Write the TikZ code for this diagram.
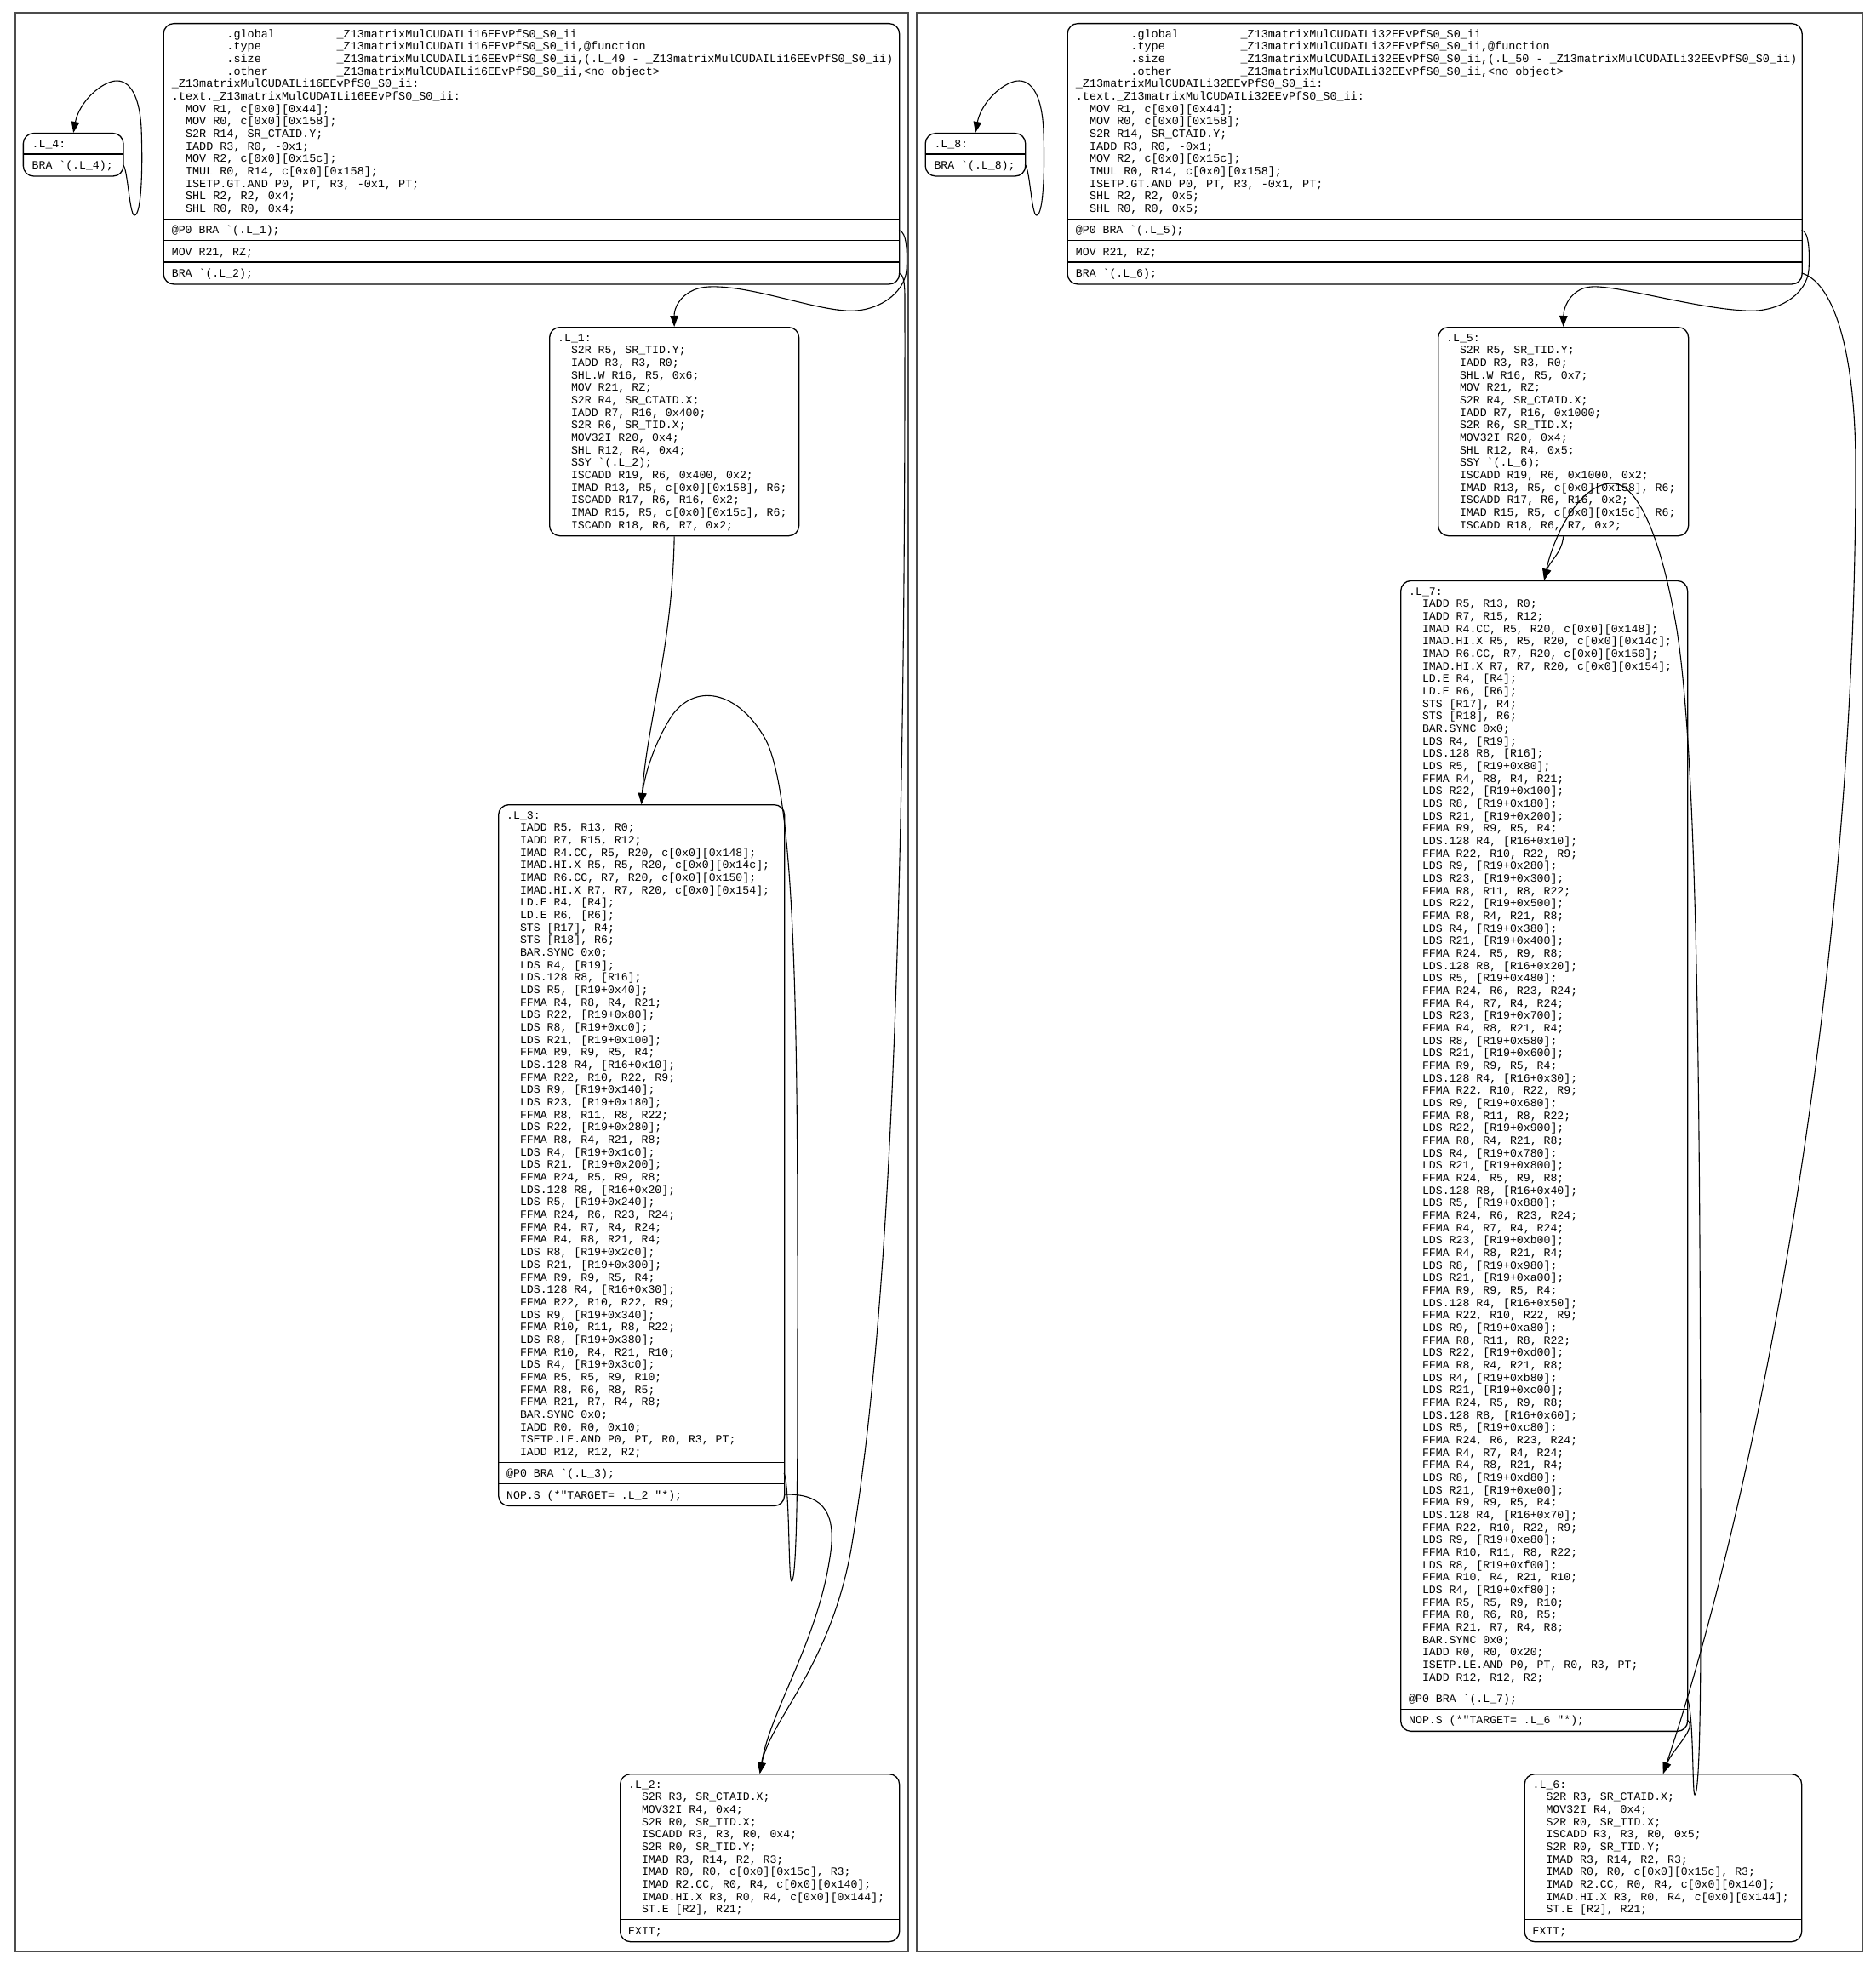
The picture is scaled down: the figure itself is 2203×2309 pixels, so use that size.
\documentclass[tikz,border=0pt]{standalone}
\usepackage{fontspec}
\setmonofont{Liberation Mono}
\usetikzlibrary{arrows.meta}
\newcommand\spc[1]{\hspace*{#1\fontcharwd\font`x}}
\newcommand\myin{\spc{2}}
\newcommand\bqt{\textasciigrave}
\newcommand\dq{\textquotedbl}
\newcommand\codeblk[1]{\parbox[t]{1000pt}{\rule{0pt}{12pt}#1}}
\frenchspacing
\begin{document}
\begin{tikzpicture}[x=1pt,y=-1pt,
  cluster/.style={draw=black!70,line width=2pt},
  recbox/.style={draw,line width=1.3pt,rounded corners=12pt,anchor=north west,inner sep=0pt,rectangle},
  sepline/.style={line width=1.2pt},
  codetxt/.style={anchor=north west,inner sep=0pt,font=\fontsize{13.2pt}{14.67pt}\selectfont\ttfamily},
  toptxt/.style={anchor=north west,inner sep=0pt,font=\fontsize{13.45pt}{14.67pt}\selectfont\ttfamily},
  fldtxt/.style={anchor=base west,inner sep=0pt,font=\fontsize{13.2pt}{14.67pt}\selectfont\ttfamily},
  edge/.style={line width=1.1pt,-{Triangle[length=13pt,width=9.5pt]}}]
\useasboundingbox (0,0) rectangle (2203,2309);
% clusters
\draw[cluster] (17.7,14.7) rectangle (1066.5,2293);
\draw[cluster] (1076.5,14.7) rectangle (2188.3,2293);

% ===== left top block
\node[recbox,minimum width=864.5pt,minimum height=306.3pt] (EL) at (191.5,27) {};
\draw[sepline] (191.5,257.4) -- (1056,257.4);
\draw[sepline] (191.5,282.7) -- (1056,282.7);
\draw[sepline] (191.5,308.0) -- (1056,308.0);
\node[toptxt] (ELt) at (201.7,32) {\codeblk{\spc{8}.global\spc{9}\_Z13matrixMulCUDAILi16EEvPfS0\_S0\_ii\\
\spc{8}.type\spc{11}\_Z13matrixMulCUDAILi16EEvPfS0\_S0\_ii,@function\\
\spc{8}.size\spc{11}\_Z13matrixMulCUDAILi16EEvPfS0\_S0\_ii,(.L\_49 - \_Z13matrixMulCUDAILi16EEvPfS0\_S0\_ii)\\
\spc{8}.other\spc{10}\_Z13matrixMulCUDAILi16EEvPfS0\_S0\_ii,\textless no object\textgreater\\
\_Z13matrixMulCUDAILi16EEvPfS0\_S0\_ii:\\
.text.\_Z13matrixMulCUDAILi16EEvPfS0\_S0\_ii:\\
\myin MOV R1, c[0x0][0x44];\\
\myin MOV R0, c[0x0][0x158];\\
\myin S2R R14, SR\_CTAID.Y;\\
\myin IADD R3, R0, -0x1;\\
\myin MOV R2, c[0x0][0x15c];\\
\myin IMUL R0, R14, c[0x0][0x158];\\
\myin ISETP.GT.AND P0, PT, R3, -0x1, PT;\\
\myin SHL R2, R2, 0x4;\\
\myin SHL R0, R0, 0x4;}};
\node[fldtxt] (ELf1) at (201.7,274.9) {@P0 BRA \bqt(.L\_1);};
\node[fldtxt] (ELf2) at (201.7,300.2) {MOV R21, RZ;};
\node[fldtxt] (ELf3) at (201.7,325.5) {BRA \bqt(.L\_2);};
\coordinate (ELp1) at (1056,270.5);
\coordinate (ELp3) at (1056,321);

% ===== L_4
\node[recbox,minimum width=117.6pt,minimum height=50.3pt] (L4) at (26.7,156) {};
\draw[sepline] (26.7,181) -- (144.3,181);
\node[fldtxt] (L4t) at (37.5,173.5) {.L\_4:};
\node[fldtxt] (L4f) at (37.5,198.5) {BRA \bqt(.L\_4);};
\coordinate (L4p) at (144.3,193.6);

% ===== L_1
\node[recbox,minimum width=293pt,minimum height=245pt] (L1) at (645,384) {};
\node[codetxt] (L1t) at (655,389) {\codeblk{.L\_1:\\
\myin S2R R5, SR\_TID.Y;\\
\myin IADD R3, R3, R0;\\
\myin SHL.W R16, R5, 0x6;\\
\myin MOV R21, RZ;\\
\myin S2R R4, SR\_CTAID.X;\\
\myin IADD R7, R16, 0x400;\\
\myin S2R R6, SR\_TID.X;\\
\myin MOV32I R20, 0x4;\\
\myin SHL R12, R4, 0x4;\\
\myin SSY \bqt(.L\_2);\\
\myin ISCADD R19, R6, 0x400, 0x2;\\
\myin IMAD R13, R5, c[0x0][0x158], R6;\\
\myin ISCADD R17, R6, R16, 0x2;\\
\myin IMAD R15, R5, c[0x0][0x15c], R6;\\
\myin ISCADD R18, R6, R7, 0x2;}};

% ===== L_3
\node[recbox,minimum width=336pt,minimum height=823.8pt] (L3) at (585,945) {};
\draw[sepline] (585,1718.2) -- (921,1718.2);
\draw[sepline] (585,1743.5) -- (921,1743.5);
\node[codetxt] (L3t) at (595,950) {\codeblk{.L\_3:\\
\myin IADD R5, R13, R0;\\
\myin IADD R7, R15, R12;\\
\myin IMAD R4.CC, R5, R20, c[0x0][0x148];\\
\myin IMAD.HI.X R5, R5, R20, c[0x0][0x14c];\\
\myin IMAD R6.CC, R7, R20, c[0x0][0x150];\\
\myin IMAD.HI.X R7, R7, R20, c[0x0][0x154];\\
\myin LD.E R4, [R4];\\
\myin LD.E R6, [R6];\\
\myin STS [R17], R4;\\
\myin STS [R18], R6;\\
\myin BAR.SYNC 0x0;\\
\myin LDS R4, [R19];\\
\myin LDS.128 R8, [R16];\\
\myin LDS R5, [R19+0x40];\\
\myin FFMA R4, R8, R4, R21;\\
\myin LDS R22, [R19+0x80];\\
\myin LDS R8, [R19+0xc0];\\
\myin LDS R21, [R19+0x100];\\
\myin FFMA R9, R9, R5, R4;\\
\myin LDS.128 R4, [R16+0x10];\\
\myin FFMA R22, R10, R22, R9;\\
\myin LDS R9, [R19+0x140];\\
\myin LDS R23, [R19+0x180];\\
\myin FFMA R8, R11, R8, R22;\\
\myin LDS R22, [R19+0x280];\\
\myin FFMA R8, R4, R21, R8;\\
\myin LDS R4, [R19+0x1c0];\\
\myin LDS R21, [R19+0x200];\\
\myin FFMA R24, R5, R9, R8;\\
\myin LDS.128 R8, [R16+0x20];\\
\myin LDS R5, [R19+0x240];\\
\myin FFMA R24, R6, R23, R24;\\
\myin FFMA R4, R7, R4, R24;\\
\myin FFMA R4, R8, R21, R4;\\
\myin LDS R8, [R19+0x2c0];\\
\myin LDS R21, [R19+0x300];\\
\myin FFMA R9, R9, R5, R4;\\
\myin LDS.128 R4, [R16+0x30];\\
\myin FFMA R22, R10, R22, R9;\\
\myin LDS R9, [R19+0x340];\\
\myin FFMA R10, R11, R8, R22;\\
\myin LDS R8, [R19+0x380];\\
\myin FFMA R10, R4, R21, R10;\\
\myin LDS R4, [R19+0x3c0];\\
\myin FFMA R5, R5, R9, R10;\\
\myin FFMA R8, R6, R8, R5;\\
\myin FFMA R21, R7, R4, R8;\\
\myin BAR.SYNC 0x0;\\
\myin IADD R0, R0, 0x10;\\
\myin ISETP.LE.AND P0, PT, R0, R3, PT;\\
\myin IADD R12, R12, R2;}};
\node[fldtxt] (L3f1) at (595,1735.7) {@P0 BRA \bqt(.L\_3);};
\node[fldtxt] (L3f2) at (595,1761) {NOP.S (*\dq TARGET= .L\_2 \dq*);};
\coordinate (L3p1) at (921,1730.8);
\coordinate (L3p2) at (921,1756.1);

% ===== L_2
\node[recbox,minimum width=328pt,minimum height=197pt] (L2) at (728,2084) {};
\draw[sepline] (728,2255.7) -- (1056,2255.7);
\node[codetxt] (L2t) at (738,2089) {\codeblk{.L\_2:\\
\myin S2R R3, SR\_CTAID.X;\\
\myin MOV32I R4, 0x4;\\
\myin S2R R0, SR\_TID.X;\\
\myin ISCADD R3, R3, R0, 0x4;\\
\myin S2R R0, SR\_TID.Y;\\
\myin IMAD R3, R14, R2, R3;\\
\myin IMAD R0, R0, c[0x0][0x15c], R3;\\
\myin IMAD R2.CC, R0, R4, c[0x0][0x140];\\
\myin IMAD.HI.X R3, R0, R4, c[0x0][0x144];\\
\myin ST.E [R2], R21;}};
\node[fldtxt] (L2f) at (738,2273.2) {EXIT;};

% ===== right top block
\node[recbox,minimum width=863pt,minimum height=306.3pt] (ER) at (1253.5,27) {};
\draw[sepline] (1253.5,257.4) -- (2116.5,257.4);
\draw[sepline] (1253.5,282.7) -- (2116.5,282.7);
\draw[sepline] (1253.5,308.0) -- (2116.5,308.0);
\node[toptxt] (ERt) at (1263.7,32) {\codeblk{\spc{8}.global\spc{9}\_Z13matrixMulCUDAILi32EEvPfS0\_S0\_ii\\
\spc{8}.type\spc{11}\_Z13matrixMulCUDAILi32EEvPfS0\_S0\_ii,@function\\
\spc{8}.size\spc{11}\_Z13matrixMulCUDAILi32EEvPfS0\_S0\_ii,(.L\_50 - \_Z13matrixMulCUDAILi32EEvPfS0\_S0\_ii)\\
\spc{8}.other\spc{10}\_Z13matrixMulCUDAILi32EEvPfS0\_S0\_ii,\textless no object\textgreater\\
\_Z13matrixMulCUDAILi32EEvPfS0\_S0\_ii:\\
.text.\_Z13matrixMulCUDAILi32EEvPfS0\_S0\_ii:\\
\myin MOV R1, c[0x0][0x44];\\
\myin MOV R0, c[0x0][0x158];\\
\myin S2R R14, SR\_CTAID.Y;\\
\myin IADD R3, R0, -0x1;\\
\myin MOV R2, c[0x0][0x15c];\\
\myin IMUL R0, R14, c[0x0][0x158];\\
\myin ISETP.GT.AND P0, PT, R3, -0x1, PT;\\
\myin SHL R2, R2, 0x5;\\
\myin SHL R0, R0, 0x5;}};
\node[fldtxt] (ERf1) at (1263.7,274.9) {@P0 BRA \bqt(.L\_5);};
\node[fldtxt] (ERf2) at (1263.7,300.2) {MOV R21, RZ;};
\node[fldtxt] (ERf3) at (1263.7,325.5) {BRA \bqt(.L\_6);};
\coordinate (ERp1) at (2116.5,270.5);
\coordinate (ERp3) at (2116.5,321);

% ===== L_8
\node[recbox,minimum width=117.6pt,minimum height=50.3pt] (L8) at (1086.5,156) {};
\draw[sepline] (1086.5,181) -- (1204.1,181);
\node[fldtxt] (L8t) at (1097.3,173.5) {.L\_8:};
\node[fldtxt] (L8f) at (1097.3,198.5) {BRA \bqt(.L\_8);};
\coordinate (L8p) at (1204.1,193.6);

% ===== L_5
\node[recbox,minimum width=294pt,minimum height=245pt] (L5) at (1689,384) {};
\node[codetxt] (L5t) at (1699,389) {\codeblk{.L\_5:\\
\myin S2R R5, SR\_TID.Y;\\
\myin IADD R3, R3, R0;\\
\myin SHL.W R16, R5, 0x7;\\
\myin MOV R21, RZ;\\
\myin S2R R4, SR\_CTAID.X;\\
\myin IADD R7, R16, 0x1000;\\
\myin S2R R6, SR\_TID.X;\\
\myin MOV32I R20, 0x4;\\
\myin SHL R12, R4, 0x5;\\
\myin SSY \bqt(.L\_6);\\
\myin ISCADD R19, R6, 0x1000, 0x2;\\
\myin IMAD R13, R5, c[0x0][0x158], R6;\\
\myin ISCADD R17, R6, R16, 0x2;\\
\myin IMAD R15, R5, c[0x0][0x15c], R6;\\
\myin ISCADD R18, R6, R7, 0x2;}};

% ===== L_7
\node[recbox,minimum width=337pt,minimum height=1351.9pt] (L7) at (1645,681.8) {};
\draw[sepline] (1645,1983.1) -- (1982,1983.1);
\draw[sepline] (1645,2008.4) -- (1982,2008.4);
\node[codetxt] (L7t) at (1655,686.8) {\codeblk{.L\_7:\\
\myin IADD R5, R13, R0;\\
\myin IADD R7, R15, R12;\\
\myin IMAD R4.CC, R5, R20, c[0x0][0x148];\\
\myin IMAD.HI.X R5, R5, R20, c[0x0][0x14c];\\
\myin IMAD R6.CC, R7, R20, c[0x0][0x150];\\
\myin IMAD.HI.X R7, R7, R20, c[0x0][0x154];\\
\myin LD.E R4, [R4];\\
\myin LD.E R6, [R6];\\
\myin STS [R17], R4;\\
\myin STS [R18], R6;\\
\myin BAR.SYNC 0x0;\\
\myin LDS R4, [R19];\\
\myin LDS.128 R8, [R16];\\
\myin LDS R5, [R19+0x80];\\
\myin FFMA R4, R8, R4, R21;\\
\myin LDS R22, [R19+0x100];\\
\myin LDS R8, [R19+0x180];\\
\myin LDS R21, [R19+0x200];\\
\myin FFMA R9, R9, R5, R4;\\
\myin LDS.128 R4, [R16+0x10];\\
\myin FFMA R22, R10, R22, R9;\\
\myin LDS R9, [R19+0x280];\\
\myin LDS R23, [R19+0x300];\\
\myin FFMA R8, R11, R8, R22;\\
\myin LDS R22, [R19+0x500];\\
\myin FFMA R8, R4, R21, R8;\\
\myin LDS R4, [R19+0x380];\\
\myin LDS R21, [R19+0x400];\\
\myin FFMA R24, R5, R9, R8;\\
\myin LDS.128 R8, [R16+0x20];\\
\myin LDS R5, [R19+0x480];\\
\myin FFMA R24, R6, R23, R24;\\
\myin FFMA R4, R7, R4, R24;\\
\myin LDS R23, [R19+0x700];\\
\myin FFMA R4, R8, R21, R4;\\
\myin LDS R8, [R19+0x580];\\
\myin LDS R21, [R19+0x600];\\
\myin FFMA R9, R9, R5, R4;\\
\myin LDS.128 R4, [R16+0x30];\\
\myin FFMA R22, R10, R22, R9;\\
\myin LDS R9, [R19+0x680];\\
\myin FFMA R8, R11, R8, R22;\\
\myin LDS R22, [R19+0x900];\\
\myin FFMA R8, R4, R21, R8;\\
\myin LDS R4, [R19+0x780];\\
\myin LDS R21, [R19+0x800];\\
\myin FFMA R24, R5, R9, R8;\\
\myin LDS.128 R8, [R16+0x40];\\
\myin LDS R5, [R19+0x880];\\
\myin FFMA R24, R6, R23, R24;\\
\myin FFMA R4, R7, R4, R24;\\
\myin LDS R23, [R19+0xb00];\\
\myin FFMA R4, R8, R21, R4;\\
\myin LDS R8, [R19+0x980];\\
\myin LDS R21, [R19+0xa00];\\
\myin FFMA R9, R9, R5, R4;\\
\myin LDS.128 R4, [R16+0x50];\\
\myin FFMA R22, R10, R22, R9;\\
\myin LDS R9, [R19+0xa80];\\
\myin FFMA R8, R11, R8, R22;\\
\myin LDS R22, [R19+0xd00];\\
\myin FFMA R8, R4, R21, R8;\\
\myin LDS R4, [R19+0xb80];\\
\myin LDS R21, [R19+0xc00];\\
\myin FFMA R24, R5, R9, R8;\\
\myin LDS.128 R8, [R16+0x60];\\
\myin LDS R5, [R19+0xc80];\\
\myin FFMA R24, R6, R23, R24;\\
\myin FFMA R4, R7, R4, R24;\\
\myin FFMA R4, R8, R21, R4;\\
\myin LDS R8, [R19+0xd80];\\
\myin LDS R21, [R19+0xe00];\\
\myin FFMA R9, R9, R5, R4;\\
\myin LDS.128 R4, [R16+0x70];\\
\myin FFMA R22, R10, R22, R9;\\
\myin LDS R9, [R19+0xe80];\\
\myin FFMA R10, R11, R8, R22;\\
\myin LDS R8, [R19+0xf00];\\
\myin FFMA R10, R4, R21, R10;\\
\myin LDS R4, [R19+0xf80];\\
\myin FFMA R5, R5, R9, R10;\\
\myin FFMA R8, R6, R8, R5;\\
\myin FFMA R21, R7, R4, R8;\\
\myin BAR.SYNC 0x0;\\
\myin IADD R0, R0, 0x20;\\
\myin ISETP.LE.AND P0, PT, R0, R3, PT;\\
\myin IADD R12, R12, R2;}};
\node[fldtxt] (L7f1) at (1655,2000.6) {@P0 BRA \bqt(.L\_7);};
\node[fldtxt] (L7f2) at (1655,2025.9) {NOP.S (*\dq TARGET= .L\_6 \dq*);};
\coordinate (L7p1) at (1982,1995.7);
\coordinate (L7p2) at (1982,2021);

% ===== L_6
\node[recbox,minimum width=325.5pt,minimum height=197pt] (L6) at (1790.5,2084) {};
\draw[sepline] (1790.5,2255.7) -- (2116,2255.7);
\node[codetxt] (L6t) at (1800.5,2089) {\codeblk{.L\_6:\\
\myin S2R R3, SR\_CTAID.X;\\
\myin MOV32I R4, 0x4;\\
\myin S2R R0, SR\_TID.X;\\
\myin ISCADD R3, R3, R0, 0x5;\\
\myin S2R R0, SR\_TID.Y;\\
\myin IMAD R3, R14, R2, R3;\\
\myin IMAD R0, R0, c[0x0][0x15c], R3;\\
\myin IMAD R2.CC, R0, R4, c[0x0][0x140];\\
\myin IMAD.HI.X R3, R0, R4, c[0x0][0x144];\\
\myin ST.E [R2], R21;}};
\node[fldtxt] (L6f) at (1800.5,2273.2) {EXIT;};

% ===== edges, left
\draw[edge] (L4p) .. controls (150,196) and (152,253) .. (158,253) .. controls (166,253) and (168,200) .. (166,150) .. controls (163,100) and (145,90) .. (128,97) .. controls (110,104) and (92,125) .. (L4.north);
\draw[edge] (ELp1) .. controls (1066,272) and (1066,300) .. (1065,317) .. controls (1063,345) and (1030,368) .. (993,365) .. controls (950,362) and (880,335) .. (833,337) .. controls (805,338) and (792,358) .. (L1.north);
\draw[edge] (ELp3) .. controls (1061,322) and (1063,330) .. (1063,350) .. controls (1064,1100) and (1045,1550) .. (1000,1820) .. controls (975,1960) and (905,2020) .. (L2.north);
\draw[edge] (L1.south) .. controls (790,760) and (760,850) .. (L3.north);
\draw[edge] (L3p1) .. controls (928,1745) and (926,1858) .. (930,1858) .. controls (934,1858) and (937,1800) .. (937,1650) .. controls (937,1300) and (940,950) .. (900,870) .. controls (870,815) and (820,800) .. (790,840) .. controls (770,870) and (757,910) .. (L3.north);
\draw[edge] (L3p2) .. controls (960,1755) and (985,1770) .. (975,1830) .. controls (960,1930) and (905,2010) .. (L2.north);

% ===== edges, right
\draw[edge] (L8p) .. controls (1209.8,196) and (1211.8,253) .. (1217.8,253) .. controls (1225.8,253) and (1227.8,200) .. (1225.8,150) .. controls (1222.8,100) and (1204.8,90) .. (1187.8,97) .. controls (1169.8,104) and (1151.8,125) .. (L8.north);
\draw[edge] (ERp1) .. controls (2126,272) and (2126,300) .. (2125,317) .. controls (2123,345) and (2090,368) .. (2050,365) .. controls (1990,362) and (1900,335) .. (1870,337) .. controls (1848,338) and (1837,358) .. (L5.north);
\draw[edge] (ERp3) .. controls (2150,330) and (2180,400) .. (2180,550) .. controls (2180,1200) and (2050,1800) .. (L6.north);
\draw[edge] (L5.south) .. controls (1835,650) and (1820,660) .. (L7.north);
\draw[edge] (L7p1) .. controls (1990,2010) and (1988,2109) .. (1991,2109) .. controls (1995,2109) and (1998,2050) .. (1998,1900) .. controls (1998,1300) and (1995,900) .. (1970,740) .. controls (1950,620) and (1920,565) .. (1892,568) .. controls (1855,570) and (1825,630) .. (L7.north);
\draw[edge] (L7p2) .. controls (1995,2030) and (1965,2055) .. (L6.north);
\end{tikzpicture}
\end{document}
